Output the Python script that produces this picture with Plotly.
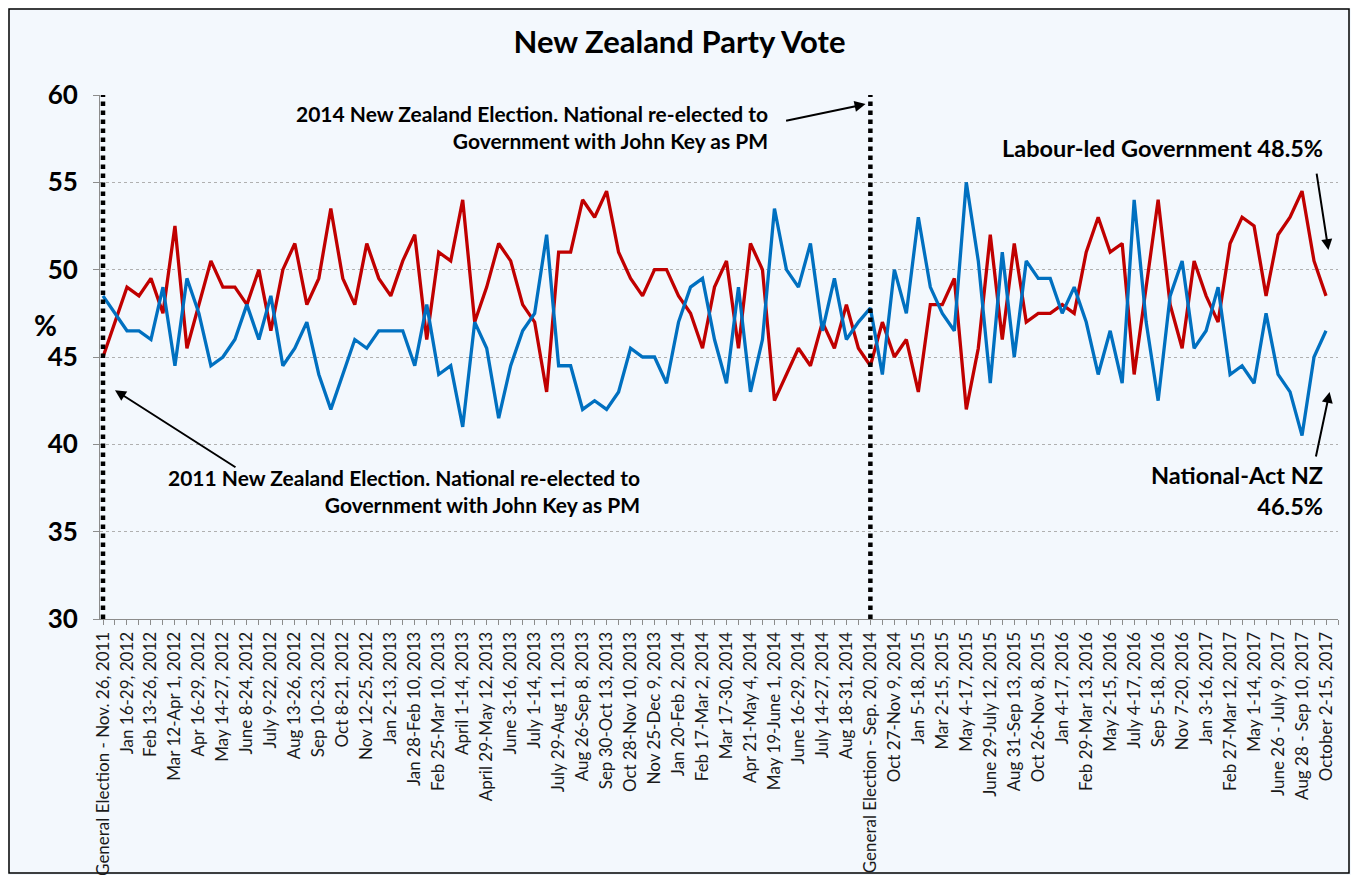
import plotly.graph_objects as go

tick_labels = [
    "General Election - Nov. 26, 2011", "Jan 16-29, 2012", "Feb 13-26, 2012",
    "Mar 12-Apr 1, 2012", "Apr 16-29, 2012", "May 14-27, 2012", "June 8-24, 2012",
    "July 9-22, 2012", "Aug 13-26, 2012", "Sep 10-23, 2012", "Oct 8-21, 2012",
    "Nov 12-25, 2012", "Jan 2-13, 2013", "Jan 28-Feb 10, 2013", "Feb 25-Mar 10, 2013",
    "April 1-14, 2013", "April 29-May 12, 2013", "June 3-16, 2013", "July 1-14, 2013",
    "July 29-Aug 11, 2013", "Aug 26-Sep 8, 2013", "Sep 30-Oct 13, 2013",
    "Oct 28-Nov 10, 2013", "Nov 25-Dec 9, 2013", "Jan 20-Feb 2, 2014",
    "Feb 17-Mar 2, 2014", "Mar 17-30, 2014", "Apr 21-May 4, 2014",
    "May 19-June 1, 2014", "June 16-29, 2014", "July 14-27, 2014", "Aug 18-31, 2014",
    "General Election - Sep. 20, 2014", "Oct 27-Nov 9, 2014", "Jan 5-18, 2015",
    "Mar 2-15, 2015", "May 4-17, 2015", "June 29-July 12, 2015", "Aug 31-Sep 13, 2015",
    "Oct 26-Nov 8, 2015", "Jan 4-17, 2016", "Feb 29-Mar 13, 2016", "May 2-15, 2016",
    "July 4-17, 2016", "Sep 5-18, 2016", "Nov 7-20, 2016", "Jan 3-16, 2017",
    "Feb 27-Mar 12, 2017", "May 1-14, 2017", "June 26 - July 9, 2017",
    "Aug 28 - Sep 10, 2017", "October 2-15, 2017",
]

labour_led = [
    45, 47, 49, 48.5, 49.5, 47.5, 52.5, 45.5, 48, 50.5,
    49, 49, 48, 50, 46.5, 50, 51.5, 48, 49.5, 53.5,
    49.5, 48, 51.5, 49.5, 48.5, 50.5, 52, 46, 51, 50.5,
    54, 47, 49, 51.5, 50.5, 48, 47, 43, 51, 51,
    54, 53, 54.5, 51, 49.5, 48.5, 50, 50, 48.5, 47.5,
    45.5, 49, 50.5, 45.5, 51.5, 50, 42.5, 44, 45.5, 44.5,
    47, 45.5, 48, 45.5, 44.5, 47, 45, 46, 43, 48,
    48, 49.5, 42, 45.5, 52, 46, 51.5, 47, 47.5, 47.5,
    48, 47.5, 51, 53, 51, 51.5, 44, 49, 54, 48,
    45.5, 50.5, 48.5, 47, 51.5, 53, 52.5, 48.5, 52, 53,
    54.5, 50.5, 48.5,
]

national_act = [
    48.5, 47.5, 46.5, 46.5, 46, 49, 44.5, 49.5, 47.5, 44.5,
    45, 46, 48, 46, 48.5, 44.5, 45.5, 47, 44, 42,
    44, 46, 45.5, 46.5, 46.5, 46.5, 44.5, 48, 44, 44.5,
    41, 47, 45.5, 41.5, 44.5, 46.5, 47.5, 52, 44.5, 44.5,
    42, 42.5, 42, 43, 45.5, 45, 45, 43.5, 47, 49,
    49.5, 46, 43.5, 49, 43, 46, 53.5, 50, 49, 51.5,
    46.5, 49.5, 46, 47, 47.8, 44, 50, 47.5, 53, 49,
    47.5, 46.5, 55, 50.5, 43.5, 51, 45, 50.5, 49.5, 49.5,
    47.5, 49, 47, 44, 46.5, 43.5, 54, 47, 42.5, 48.5,
    50.5, 45.5, 46.5, 49, 44, 44.5, 43.5, 47.5, 44, 43,
    40.5, 45, 46.5,
]

x_idx = list(range(len(labour_led)))
label_step = 2
tick_vals = x_idx[::label_step]
election_idx = [tick_vals[k] for k, t in enumerate(tick_labels) if t.startswith("General Election")]

FONT = "Lato"
BG = "#F3F8FD"

W, H = 1343, 867
L, R, T, B = 92, 13, 87, 256
PW, PH = W - L - R, H - T - B

fig = go.Figure()
fig.add_trace(go.Scatter(x=x_idx, y=labour_led, mode="lines", name="Labour-led Government",
                         line=dict(color="#C00000", width=3.3)))
fig.add_trace(go.Scatter(x=x_idx, y=national_act, mode="lines", name="National-Act NZ",
                         line=dict(color="#0070C0", width=3.3)))

shapes = []
for e in election_idx:
    shapes.append(dict(type="line", xref="x", yref="y", x0=e, x1=e, y0=30, y1=60,
                       line=dict(color="black", width=4.5, dash="dot")))
# outer border
shapes.append(dict(type="rect", xref="paper", yref="paper",
                   x0=(-L + 1) / PW, x1=(W - L - 2) / PW,
                   y0=(-B + 2) / PH, y1=(H - B - 1) / PH,
                   line=dict(color="black", width=1.5), layer="below"))
fig.update_layout(shapes=shapes)

ann = []
note_2014 = ["2014 New Zealand Election. National re-elected to", "Government with John Key as PM"]
note_2011 = ["2011 New Zealand Election. National re-elected to", "Government with John Key as PM"]
nf = dict(family=FONT, size=21, color="black")
ann.append(dict(x=55.63, y=58.19, xref="x", yref="y", xanchor="right", yanchor="middle",
                align="right", showarrow=False, font=nf,
                text="<b>" + "<br>".join(note_2014) + "</b>"))
ann.append(dict(x=44.95, y=37.33, xref="x", yref="y", xanchor="right", yanchor="middle",
                align="right", showarrow=False, font=nf,
                text="<b>" + "<br>".join(note_2011) + "</b>"))
lf = dict(family=FONT, size=23.5, color="black")
ann.append(dict(x=101.9, y=56.96, xref="x", yref="y", xanchor="right", yanchor="middle",
                align="right", showarrow=False, font=lf,
                text="<b>Labour-led Government 48.5%</b>"))
ann.append(dict(x=101.9, y=37.36, xref="x", yref="y", xanchor="right", yanchor="middle",
                align="right", showarrow=False, font=lf,
                text="<b>" + "<br>".join(["National-Act NZ", "46.5%"]) + "</b>"))
# arrows
arrow = dict(showarrow=True, arrowhead=2, arrowsize=1.1, arrowwidth=2, arrowcolor="black",
             text="", xref="x", yref="y", axref="pixel", ayref="pixel")
ann.append(dict(arrow, x=63.6, y=59.48, ax=-81, ay=17))
ann.append(dict(arrow, x=1.0, y=43.1, ax=122, ay=78))
ann.append(dict(arrow, x=102.2, y=51.12, ax=-12, ay=-78))
ann.append(dict(arrow, x=102.3, y=43.0, ax=-14, ay=66))
# y axis unit
ann.append(dict(x=-0.0444, y=0.561, xref="paper", yref="paper", xanchor="center",
                yanchor="middle", showarrow=False,
                text="<b>%</b>", font=dict(family=FONT, size=28, color="black")))
fig.update_layout(annotations=ann)

fig.update_layout(
    width=W, height=H, autosize=False,
    margin=dict(l=L, r=R, t=T, b=B),
    paper_bgcolor=BG, plot_bgcolor=BG,
    showlegend=False,
    title=dict(text="<b>New Zealand Party Vote</b>", x=0.5, xref="container", xanchor="center",
               y=1 - 34 / H, yref="container", yanchor="middle",
               font=dict(family=FONT, size=31, color="black")),
    font=dict(family=FONT),
)

fig.update_xaxes(
    range=[-0.25, 103], tickmode="array", tickvals=tick_vals, ticktext=tick_labels,
    tickangle=-90, tickfont=dict(family=FONT, size=17, color="#1a1a1a"),
    showgrid=False, zeroline=False, showline=True, linecolor="#8c8c8c", linewidth=1,
    ticks="outside", ticklen=5, tickcolor="#8c8c8c", automargin=False,
    minor=dict(tickmode="linear", dtick=1, ticks="outside", ticklen=5, tickcolor="#8c8c8c"),
)
fig.update_yaxes(
    range=[30, 60], dtick=5, tickfont=dict(family=FONT, size=26, color="black"),
    showgrid=True, gridcolor="#b0b0b0", griddash="dot", gridwidth=1,
    zeroline=False, showline=True, linecolor="#8c8c8c", linewidth=1, automargin=False,
    ticks="outside", ticklen=6, tickcolor="#8c8c8c", tickprefix="<b>", ticksuffix="</b>",
    ticklabelstandoff=10,
)

fig.write_html("out.html")
